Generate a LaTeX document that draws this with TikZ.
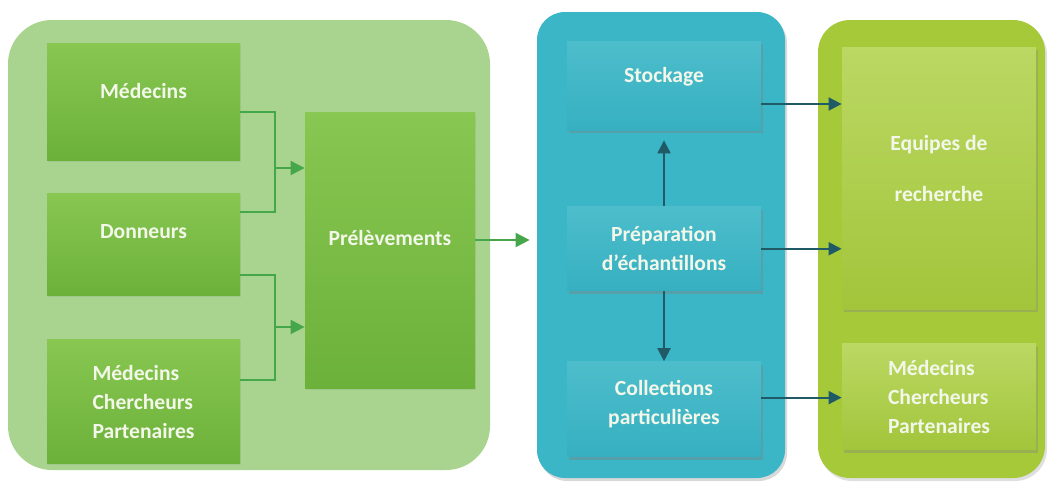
\documentclass[tikz,border=0pt]{standalone}
\usepackage{fontspec}
\setmainfont{Carlito}
\usetikzlibrary{positioning}
\usetikzlibrary{arrows.meta}
\usetikzlibrary{shadows}
\definecolor{zoneVert}{HTML}{A8D48F}
\definecolor{vertHaut}{HTML}{88C751}
\definecolor{vertBas}{HTML}{6CB13A}
\definecolor{flecheVert}{HTML}{46A64A}
\definecolor{zoneBleu}{HTML}{3BB6C7}
\definecolor{bleuHaut}{HTML}{4DBDCB}
\definecolor{bleuBas}{HTML}{36B0C1}
\definecolor{flecheBleu}{HTML}{1F5A66}
\definecolor{zoneLime}{HTML}{A6C93A}
\definecolor{limeHaut}{HTML}{BBD863}
\definecolor{limeBas}{HTML}{A2C53B}
\definecolor{texteClair}{HTML}{F3F7EA}

\begin{document}
\begin{tikzpicture}[x=0.5pt, y=-0.5pt,
    ZONE/.style={rectangle, inner sep=0pt},
    BOX/.style={rectangle, inner sep=2pt, align=center, text=texteClair,
                font=\bfseries\fontsize{10.8}{14.5}\selectfont},
    VERT/.style={BOX, top color=vertHaut, bottom color=vertBas,
                 drop shadow={shadow xshift=0.6pt, shadow yshift=-0.8pt, opacity=0.15}},
    BLEU/.style={BOX, top color=bleuHaut, bottom color=bleuBas,
                 drop shadow={shadow xshift=1.2pt, shadow yshift=-1.5pt, opacity=0.4}},
    LIME/.style={BOX, top color=limeHaut, bottom color=limeBas,
                 drop shadow={shadow xshift=1.2pt, shadow yshift=-1.5pt, opacity=0.35}},
    LIEN/.style={draw=flecheVert, line width=1pt},
    FLECHE/.style={LIEN, -{Triangle[length=7pt, width=7pt]}},
    FLECHEB/.style={draw=flecheBleu, line width=1pt, -{Triangle[length=6.5pt, width=6.5pt]}}]

            \useasboundingbox (0,0) rectangle (1049,482);

            \node[ZONE, fill=zoneVert, rounded corners=22pt,
                  minimum width=241pt, minimum height=225pt] (zoneG) at (249,245) {};
            \node[ZONE, fill=zoneBleu, rounded corners=14pt,
                  drop shadow={shadow xshift=1pt, shadow yshift=-1.5pt, opacity=0.3},
                  minimum width=124pt, minimum height=233pt] (zoneB) at (661,245) {};
            \node[ZONE, fill=zoneLime, rounded corners=16pt,
                  drop shadow={shadow xshift=1pt, shadow yshift=-1.5pt, opacity=0.25},
                  minimum width=113.5pt, minimum height=229pt] (zoneD) at (931.5,249) {};

            \node[VERT, minimum width=96.5pt, minimum height=58.5pt, text depth=11pt] (med1)
                at (143.5,101.5) {Médecins};
            \node[VERT, minimum width=96.5pt, minimum height=51pt, text depth=13pt,
                  below = 16.5pt of med1] (don) {Donneurs};
            \node[VERT, minimum width=96.5pt, minimum height=62pt, align=left,
                  below = 21.5pt of don] (mcp1) {Médecins\\Chercheurs\\Partenaires};
            \node[VERT, minimum width=85pt, minimum height=138pt, text depth=12pt] (prel)
                at (390,250) {Prélèvements};

            \node[BLEU, minimum width=97pt, minimum height=44.5pt, text depth=11pt] (stock)
                at (664,85.5) {Stockage};
            \node[BLEU, minimum width=97pt, minimum height=42pt,
                  below = 38pt of stock] (prep) {Préparation\\d’échantillons};
            \node[BLEU, minimum width=97pt, minimum height=47.5pt, text depth=7pt,
                  below = 35pt of prep] (coll) {Collections\\particulières};

            \node[LIME, minimum width=97pt, minimum height=131pt, text depth=10pt] (equ)
                at (939,178) {Equipes de\\[11pt]recherche};
            \node[LIME, minimum width=97pt, minimum height=53pt, align=left,
                  below = 17pt of equ] (mcp2) {Médecins\\Chercheurs\\Partenaires};

            \coordinate (j1) at (275,168);
            \coordinate (j2) at (275,327);

            \draw[LIEN] ([yshift=-5.25pt]med1.east) -| (j1) |- ([yshift=16.5pt]don.east);
            \draw[LIEN] ([yshift=-15pt]don.east) -| (j2) |- ([yshift=11pt]mcp1.east);
            \draw[FLECHE] (j1) -- (j1 -| prel.west);
            \draw[FLECHE] (j2) -- (j2 -| prel.west);
            \draw[FLECHE, shorten >=3.5pt] ([yshift=5pt]prel.east) -- ([yshift=5pt]prel.east -| zoneB.west);

            \draw[FLECHEB, shorten >=5pt] (prep.north) -- (stock.south);
            \draw[FLECHEB] (prep.south) -- (coll.north);
            \draw[FLECHEB] ([yshift=-9.25pt]stock.east) -- ([yshift=-9.25pt]stock.east -| equ.west);
            \draw[FLECHEB] (prep.east) -- (prep.east -| equ.west);
            \draw[FLECHEB] ([yshift=5.75pt]coll.east) -- ([yshift=5.75pt]coll.east -| mcp2.west);
        \end{tikzpicture}
\end{document}
